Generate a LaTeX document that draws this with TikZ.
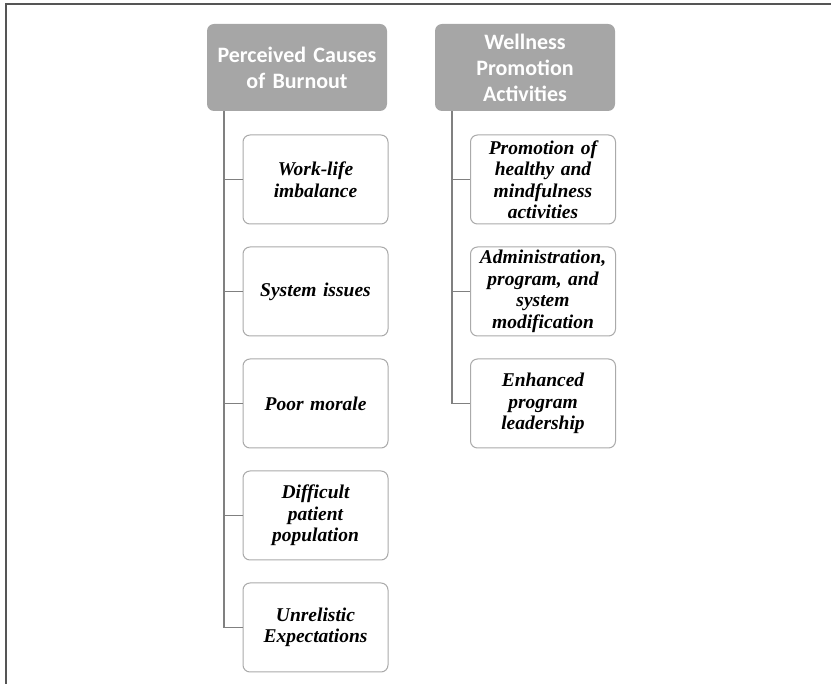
\documentclass[tikz,border=0pt]{standalone}
\usepackage{fontspec}
\setmainfont{Liberation Serif}
\newfontfamily\headfont{Carlito}
\usetikzlibrary{positioning}

\definecolor{headgray}{RGB}{166,166,166}
\definecolor{boxgray}{RGB}{170,170,170}
\definecolor{linkgray}{RGB}{128,128,128}
\definecolor{framegray}{RGB}{85,85,85}

\tikzset{
  head/.style={fill=headgray, rounded corners=7pt, minimum width=180pt,
    minimum height=87pt, text width=176pt, inner sep=2pt, align=center,
    text=white, font=\headfont\bfseries\fontsize{22}{26}\selectfont},
  item/.style={draw=boxgray, line width=1pt, fill=white, rounded corners=7pt,
    minimum width=145pt, minimum height=89pt, text width=143pt, inner sep=1pt,
    align=center, font=\bfseries\itshape\fontsize{19.5}{21.5}\selectfont},
  link/.style={draw=linkgray, line width=1.5pt}
}

\begin{document}
\begin{tikzpicture}[x=1pt, y=-1pt]
    \useasboundingbox (0,0) rectangle (831,684);
    \draw[framegray, line width=2pt] (6,684) -- (6,4) -- (831,4);

    % causes
    \node[head] (causes) at (297,67.5) {Perceived Causes\\of Burnout};
    \node[item] (c1) at (315.5,179.5) {Work-life\\imbalance};
    \node[item] (c2) at (315.5,291.5) {System issues};
    \node[item] (c3) at (315.5,403.5) {Poor morale};
    \node[item] (c4) at (315.5,515.5) {Difficult\\patient\\population};
    \node[item] (c5) at (315.5,627.5) {Unrelistic\\Expectations};

    % wellness
    \node[head] (wellness) at (525,67.5) {Wellness\\Promotion\\Activities};
    \node[item] (w1) at (543,179.5) {Promotion of\\healthy and\\mindfulness\\activities};
    \node[item] (w2) at (543,291.5) {Administration,\\program, and\\system\\modification};
    \node[item] (w3) at (543,403.5) {Enhanced\\program\\leadership};

    \foreach \c in {c1,c2,c3,c4,c5}
      \draw[link] ([xshift=17pt]causes.south west) |- (\c.west);
    \foreach \w in {w1,w2,w3}
      \draw[link] ([xshift=17pt]wellness.south west) |- (\w.west);
\end{tikzpicture}
\end{document}
